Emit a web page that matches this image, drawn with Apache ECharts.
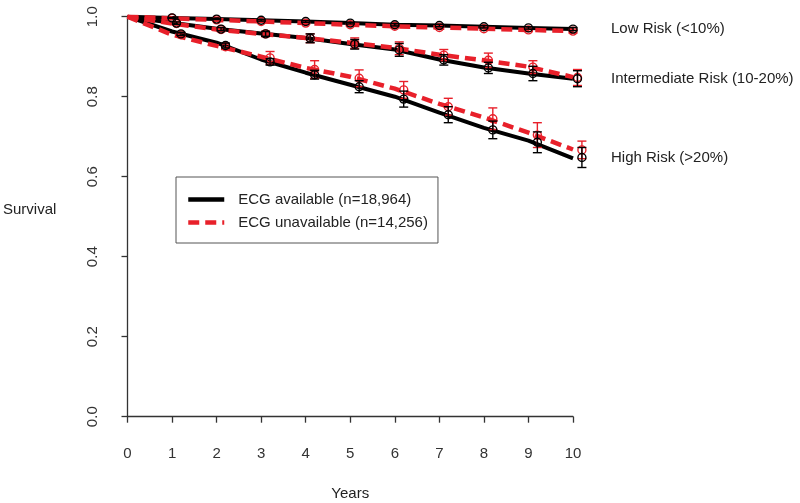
<!DOCTYPE html>
<html><head><meta charset="utf-8">
<script src="https://cdn.jsdelivr.net/npm/echarts@6/dist/echarts.min.js"></script>
<style>html,body{margin:0;padding:0;background:#fff}#c{width:800px;height:503px}</style>
</head><body><div id="c"></div>
<script>
// ---- Data ----
const years = [0,1,2,3,4,5,6,7,8,9,10];
const xTicks = ['0','1','2','3','4','5','6','7','8','9','10'];
const yTicks = ['0.0','0.2','0.4','0.6','0.8','1.0'];
const AVAIL = 'ECG available (n=18,964)';
const UNAVAIL = 'ECG unavailable (n=14,256)';
const riskLabels = ['Low Risk (<10%)', 'Intermediate Risk (10-20%)', 'High Risk (>20%)'];

// survival curves (value at each year)
const lowAvail    = [1, 0.997, 0.994, 0.991, 0.988, 0.984, 0.980, 0.978, 0.975, 0.972, 0.969];
const lowUnavail  = [1, 0.996, 0.992, 0.988, 0.984, 0.980, 0.976, 0.973, 0.970, 0.967, 0.964];
const midAvail    = [1, 0.985, 0.970, 0.958, 0.947, 0.932, 0.918, 0.893, 0.873, 0.858, 0.845];
const midUnavail  = [1, 0.983, 0.968, 0.957, 0.947, 0.935, 0.922, 0.905, 0.891, 0.875, 0.849];
const highAvail   = [1, 0.963, 0.935, 0.893, 0.860, 0.830, 0.800, 0.760, 0.722, 0.690, 0.646];
const highUnavail = [1, 0.955, 0.927, 0.900, 0.872, 0.850, 0.820, 0.782, 0.748, 0.710, 0.668];

// points with confidence intervals
const ciYearsLow  = [1,2,3,4,5,6,7,8,9,10];
const ciYearsMid  = [1.1,2.1,3.1,4.1,5.1,6.1,7.1,8.1,9.1,10.1];
const ciYearsHigh = [1.2,2.2,3.2,4.2,5.2,6.2,7.2,8.2,9.2,10.2];
const lowAvailPt   = [0.997, 0.994, 0.991, 0.988, 0.984, 0.980, 0.978, 0.975, 0.972, 0.969];
const lowAvailErr  = [0.001, 0.001, 0.002, 0.002, 0.002, 0.003, 0.003, 0.003, 0.003, 0.004];
const lowUnavailPt = [0.996, 0.992, 0.988, 0.984, 0.980, 0.976, 0.973, 0.970, 0.967, 0.964];
const lowUnavailErr= [0.001, 0.002, 0.002, 0.003, 0.003, 0.003, 0.004, 0.004, 0.004, 0.005];
const midAvailPt   = [0.984, 0.969, 0.957, 0.946, 0.931, 0.917, 0.892, 0.872, 0.858, 0.845];
const midAvailErr  = [0.003, 0.004, 0.006, 0.011, 0.012, 0.016, 0.013, 0.014, 0.018, 0.020];
const midUnavailPt = [0.983, 0.968, 0.957, 0.946, 0.934, 0.921, 0.904, 0.891, 0.874, 0.848];
const midUnavailErr= [0.004, 0.005, 0.007, 0.011, 0.013, 0.016, 0.014, 0.018, 0.016, 0.020];
const highAvailPt   = [0.957, 0.928, 0.887, 0.855, 0.825, 0.794, 0.755, 0.717, 0.686, 0.648];
const highAvailErr  = [0.004, 0.006, 0.008, 0.011, 0.015, 0.020, 0.020, 0.022, 0.026, 0.025];
const highUnavailPt = [0.955, 0.925, 0.897, 0.868, 0.846, 0.817, 0.775, 0.745, 0.704, 0.667];
const highUnavailErr= [0.005, 0.007, 0.016, 0.022, 0.021, 0.021, 0.021, 0.027, 0.031, 0.022];

// ---- Chart ----
const FONT = "'Liberation Sans', Arial, sans-serif";
const BLACK = '#000000';
const RED = '#e8202a';
const chart = echarts.init(document.getElementById('c'), null, {renderer: 'canvas'});

function curve(name, vals, color, dashed, label) {
  const s = {
    type: 'line', name: name,
    data: years.map((t, i) => [t, vals[i]]),
    symbol: 'none', smooth: false,
    lineStyle: {color: color, width: dashed ? 4.5 : 4, type: dashed ? [11, 6] : 'solid', cap: 'butt'},
    itemStyle: {color: color},
    z: dashed ? 3 : 2,
    animation: false, silent: true
  };
  if (label) {
    s.endLabel = {show: true, formatter: label, distance: 38, color: '#222', fontSize: 15, fontFamily: FONT};
  }
  return s;
}
function bars(tArr, pt, err, color) {
  return {
    type: 'custom', name: 'ci', clip: false, z: 4, silent: true, animation: false,
    data: tArr.map((t, i) => [t, pt[i], pt[i] - err[i], pt[i] + err[i]]),
    renderItem: function (params, api) {
      const x = api.value(0), m = api.value(1), lo = api.value(2), hi = api.value(3);
      const pm = api.coord([x, m]), pl = api.coord([x, lo]), ph = api.coord([x, hi]);
      const cw = 4.5;
      const st = {stroke: color, lineWidth: 1.4, fill: null};
      return {type: 'group', children: [
        {type: 'line', shape: {x1: pm[0], y1: pl[1], x2: pm[0], y2: ph[1]}, style: st},
        {type: 'line', shape: {x1: pm[0] - cw, y1: pl[1], x2: pm[0] + cw, y2: pl[1]}, style: st},
        {type: 'line', shape: {x1: pm[0] - cw, y1: ph[1], x2: pm[0] + cw, y2: ph[1]}, style: st},
        {type: 'circle', shape: {cx: pm[0], cy: pm[1], r: 4}, style: st}
      ]};
    }
  };
}

const option = {
  backgroundColor: '#fff',
  animation: false,
  grid: {left: 127.5, right: 227, top: 16.7, bottom: 86.3, containLabel: false, outerBoundsMode: 'none'},
  xAxis: {
    type: 'value', min: 0, max: 10, interval: 1, offset: 16,
    axisLine: {show: true, lineStyle: {color: '#333', width: 1.3}},
    axisTick: {show: true, length: 6, lineStyle: {color: '#333', width: 1.3}},
    axisLabel: {margin: 14, fontSize: 15, color: '#333', fontFamily: FONT,
      formatter: v => xTicks[Math.round(v)]},
    splitLine: {show: false},
    name: 'Years', nameLocation: 'middle', nameGap: 54,
    nameTextStyle: {fontSize: 15, color: '#222', fontFamily: FONT}
  },
  yAxis: {
    type: 'value', min: 0, max: 1, interval: 0.2, offset: 19,
    axisLine: {show: true, lineStyle: {color: '#333', width: 1.3}},
    axisTick: {show: true, length: 6, lineStyle: {color: '#333', width: 1.3}},
    axisLabel: {margin: 8, rotate: 90, fontSize: 15, color: '#333', fontFamily: FONT,
      formatter: v => yTicks[Math.round(v * 5)]},
    splitLine: {show: false}
  },
  legend: {
    data: [AVAIL, UNAVAIL], orient: 'vertical', left: 176, top: 177,
    itemWidth: 36, itemHeight: 14, itemGap: 8,
    padding: [15, 10, 13, 10], borderColor: '#555', borderWidth: 1, borderRadius: 0,
    selectedMode: false,
    itemStyle: {opacity: 0},
    lineStyle: {width: 4.5},
    textStyle: {fontSize: 15, color: '#222', fontFamily: FONT, padding: [0, 0, 0, 9]}
  },
  graphic: [
    {type: 'text', left: 3, top: 202, style: {text: 'Survival', fontSize: 15, fill: '#222', font: '15px ' + FONT}}
  ],
  series: [
    curve(AVAIL, lowAvail, BLACK, false, riskLabels[0]),
    curve(AVAIL, midAvail, BLACK, false, riskLabels[1]),
    curve(AVAIL, highAvail, BLACK, false, riskLabels[2]),
    curve(UNAVAIL, lowUnavail, RED, true),
    curve(UNAVAIL, midUnavail, RED, true),
    curve(UNAVAIL, highUnavail, RED, true),
    bars(ciYearsLow, lowUnavailPt, lowUnavailErr, RED),
    bars(ciYearsMid, midUnavailPt, midUnavailErr, RED),
    bars(ciYearsHigh, highUnavailPt, highUnavailErr, RED),
    bars(ciYearsLow, lowAvailPt, lowAvailErr, BLACK),
    bars(ciYearsMid, midAvailPt, midAvailErr, BLACK),
    bars(ciYearsHigh, highAvailPt, highAvailErr, BLACK)
  ]
};
chart.setOption(option);
</script></body></html>
